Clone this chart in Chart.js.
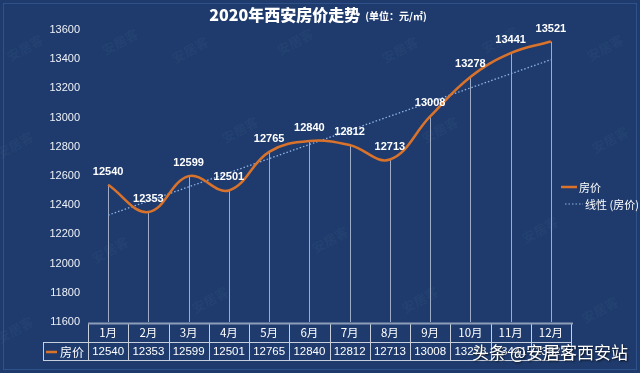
<!DOCTYPE html>
<html>
<head>
<meta charset="utf-8">
<script src="https://cdn.jsdelivr.net/npm/chart.js@4/dist/chart.umd.min.js"></script>
<style>
  html, body { margin: 0; padding: 0; background: #1f3b6d; }
  #wrap { width: 640px; height: 373px; }
</style>
</head>
<body>
<div id="wrap"><canvas id="c" width="640" height="373"></canvas></div>
<script>
const months = ["1月", "2月", "3月", "4月", "5月", "6月", "7月", "8月", "9月", "10月", "11月", "12月"]
const prices = [12540, 12353, 12599, 12501, 12765, 12840, 12812, 12713, 13008, 13278, 13441, 13521]
const yMin = 11600
const yMax = 13600
const yStep = 200

// linear trend line (least squares), like the spreadsheet trendline
function linearTrend(vals) {
    const n = vals.length
    let sx = 0, sy = 0, sxy = 0, sxx = 0
    vals.forEach((v, i) => {
        const x = i + 1
        sx += x; sy += v; sxy += x * v; sxx += x * x
    })
    const slope = (n * sxy - sx * sy) / (n * sxx - sx * sx)
    const icpt = (sy - slope * sx) / n
    return vals.map((v, i) => icpt + slope * (i + 1))
}
const trend = linearTrend(prices)

const FONT = '"Liberation Sans", "Noto Sans CJK SC", sans-serif'
const CJK = '"Noto Sans CJK SC", "Liberation Sans", sans-serif'
const ORANGE = "#d9732b"

const bgPlugin = {
    id: "bg",
    beforeDraw(chart) {
        const ctx = chart.ctx
        ctx.save()
        ctx.fillStyle = "#1f3b6d"
        ctx.fillRect(0, 0, chart.width, chart.height)
        ctx.strokeStyle = "#2f528a"
        ctx.lineWidth = 1
        ctx.strokeRect(3.5, 3.5, chart.width - 7, chart.height - 7)
        // faint watermarks
        const marks = [[25, 48], [120, 42], [190, 50], [295, 42], [400, 50], [500, 40], [605, 48],
            [15, 145], [240, 130], [440, 130], [610, 140], [110, 250], [330, 240], [540, 230],
            [15, 330], [210, 300], [420, 300], [600, 310]]
        ctx.fillStyle = "rgba(120,170,200,0.05)"
        ctx.font = "bold 13px " + CJK
        ctx.textAlign = "center"
        ctx.textBaseline = "middle"
        marks.forEach(([x, y]) => {
            ctx.save()
            ctx.translate(x, y)
            ctx.rotate(-0.5)
            ctx.fillText("安居客", 0, 0)
            ctx.restore()
        })
        ctx.restore()
    }
}

const dropLines = {
    id: "dropLines",
    beforeDatasetsDraw(chart) {
        const ctx = chart.ctx
        const meta = chart.getDatasetMeta(0)
        const bottom = chart.chartArea.bottom
        ctx.save()
        ctx.strokeStyle = "#9eabc6"
        ctx.lineWidth = 1
        meta.data.forEach(pt => {
            const x = Math.round(pt.x) + 0.5
            ctx.beginPath()
            ctx.moveTo(x, pt.y)
            ctx.lineTo(x, bottom)
            ctx.stroke()
        })
        ctx.restore()
    }
}

const extras = {
    id: "extras",
    afterDraw(chart) {
        const ctx = chart.ctx
        const area = chart.chartArea
        const xs = chart.scales.x
        const meta = chart.getDatasetMeta(0)
        ctx.save()

        // value labels
        ctx.fillStyle = "#ffffff"
        ctx.font = "bold 11px " + FONT
        ctx.textAlign = "center"
        ctx.textBaseline = "middle"
        meta.data.forEach((pt, i) => {
            ctx.fillText(String(prices[i]), pt.x, pt.y - 13)
        })

        // title
        ctx.textBaseline = "middle"
        ctx.textAlign = "left"
        const t1 = "2020年西安房价走势"
        const t2 = "(单位：元/㎡)"
        ctx.font = "900 16px " + CJK
        const w1 = ctx.measureText(t1).width
        ctx.font = "bold 10px " + CJK
        const w2 = ctx.measureText(t2).width
        const tx = 318 - (w1 + 5 + w2) / 2
        ctx.font = "900 16px " + CJK
        ctx.fillText(t1, tx, 15)
        ctx.font = "bold 10px " + CJK
        ctx.fillText(t2, tx + w1 + 5, 16)

        // legend
        ctx.font = "11px " + CJK
        ctx.strokeStyle = ORANGE
        ctx.lineWidth = 2.5
        ctx.beginPath()
        ctx.moveTo(561, 187)
        ctx.lineTo(577, 187)
        ctx.stroke()
        ctx.fillStyle = "#ffffff"
        ctx.fillText("房价", 579, 188)
        ctx.strokeStyle = "#8fb2e3"
        ctx.lineWidth = 1.2
        ctx.setLineDash([1.5, 2])
        ctx.beginPath()
        ctx.moveTo(565, 204)
        ctx.lineTo(583, 204)
        ctx.stroke()
        ctx.setLineDash([])
        ctx.fillText("线性 (房价)", 585, 205)

        // data table
        const left = area.left, right = area.right
        const top = area.bottom + 1, mid = top + 19, bot = mid + 18
        const colW = (right - left) / months.length
        ctx.strokeStyle = "#c7cfdc"
        ctx.lineWidth = 1
        ctx.beginPath()
        // horizontal rules
        ctx.moveTo(left, mid + 0.5); ctx.lineTo(right, mid + 0.5)
        ctx.moveTo(43, mid + 0.5); ctx.lineTo(left, mid + 0.5)
        ctx.moveTo(43, bot + 0.5); ctx.lineTo(right, bot + 0.5)
        // verticals
        for (let i = 0; i <= months.length; i++) {
            const x = Math.round(left + i * colW) + 0.5
            ctx.moveTo(x, top); ctx.lineTo(x, bot + 0.5)
        }
        ctx.moveTo(43.5, mid); ctx.lineTo(43.5, bot + 0.5)
        ctx.stroke()
        // top axis bar
        ctx.strokeStyle = "#8e9db8"
        ctx.lineWidth = 2
        ctx.beginPath()
        ctx.moveTo(left, top + 0.5); ctx.lineTo(right + 2, top + 0.5)
        ctx.stroke()

        ctx.fillStyle = "#ffffff"
        ctx.textAlign = "center"
        ctx.font = "11.5px " + CJK
        months.forEach((m, i) => {
            ctx.fillText(m, xs.getPixelForValue(i), top + 10)
        })
        ctx.font = "11.5px " + FONT
        prices.forEach((v, i) => {
            ctx.fillText(String(v), xs.getPixelForValue(i), mid + 10)
        })
        ctx.strokeStyle = ORANGE
        ctx.lineWidth = 2.5
        ctx.beginPath()
        ctx.moveTo(46, mid + 10); ctx.lineTo(57, mid + 10)
        ctx.stroke()
        ctx.textAlign = "left"
        ctx.font = "12px " + CJK
        ctx.fillText("房价", 60, mid + 10)

        // source mark
        ctx.font = "17px " + CJK
        ctx.textAlign = "right"
        ctx.shadowColor = "rgba(0,0,0,0.8)"
        ctx.shadowBlur = 2
        ctx.shadowOffsetX = 1
        ctx.shadowOffsetY = 1
        ctx.fillText("头条 @安居客西安站", 628, 353)
        ctx.restore()
    }
}

new Chart(document.getElementById("c"), {
    type: "line",
    data: {
        labels: months,
        datasets: [
            {
                label: "房价",
                data: prices,
                borderColor: ORANGE,
                borderWidth: 2.5,
                tension: 0.4,
                pointRadius: 0,
                fill: false
            },
            {
                label: "线性 (房价)",
                data: trend,
                borderColor: "#8fb2e3",
                borderWidth: 1.3,
                borderDash: [1.5, 2],
                tension: 0,
                pointRadius: 0,
                fill: false
            }
        ]
    },
    options: {
        responsive: false,
        animation: false,
        layout: { padding: { left: 40, right: 69, top: 30, bottom: 51 } },
        plugins: {
            legend: { display: false },
            tooltip: { enabled: false },
            title: { display: false }
        },
        scales: {
            x: {
                display: false,
                offset: true
            },
            y: {
                min: yMin,
                max: yMax,
                afterFit(scale) { scale.width = 48 },
                grid: { display: false, drawTicks: false },
                border: { display: false },
                ticks: {
                    stepSize: yStep,
                    padding: 8,
                    color: "#eef2f8",
                    font: { family: FONT, size: 11 },
                    callback: v => String(v)
                }
            }
        }
    },
    plugins: [bgPlugin, dropLines, extras]
})
</script>
</body>
</html>
